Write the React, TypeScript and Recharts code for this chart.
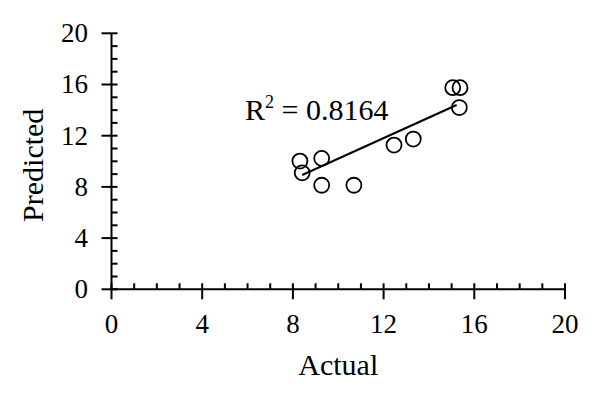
import { ScatterChart, Scatter, XAxis, YAxis, ReferenceLine, ReferenceDot, Label } from 'recharts'

// values
const actual = [8.31, 8.41, 9.27, 9.27, 10.69, 12.46, 13.31, 15.05, 15.37, 15.34]
const predicted = [10.02, 9.1, 10.23, 8.13, 8.13, 11.27, 11.74, 15.75, 15.75, 14.2]
const trendActual = [8.41, 15.22]
const trendPredicted = [8.93, 14.4]
const minorTicks = Array.from({ length: 21 }, (_, i) => i)
const majorTicks = [0, 4, 8, 12, 16, 20]
const r2Value = '0.8164'

const FONT = '"Liberation Serif", "Times New Roman", serif'
const INK = '#000'

const points = actual.map((x, i) => ({ x, y: predicted[i] }))

const XTick = ({ x, y, payload }: any) => {
  const major = majorTicks.includes(payload.value)
  return (
    <g>
      {major ? (
        <>
          <line x1={x} x2={x} y1={y - 6} y2={y + 10} stroke={INK} strokeWidth={2} />
          <text x={x} y={y + 44} textAnchor="middle" fontFamily={FONT} fontSize={27} fill={INK}>
            {payload.value}
          </text>
        </>
      ) : (
        <line x1={x} x2={x} y1={y - 6} y2={y} stroke={INK} strokeWidth={2} />
      )}
    </g>
  )
}

const YTick = ({ x, y, payload }: any) => {
  const major = majorTicks.includes(payload.value)
  return (
    <g>
      {major ? (
        <>
          <line x1={x - 10} x2={x + 6} y1={y} y2={y} stroke={INK} strokeWidth={2} />
          <text x={x - 23.5} y={y} dy="0.33em" textAnchor="end" fontFamily={FONT} fontSize={27} fill={INK}>
            {payload.value}
          </text>
        </>
      ) : (
        <line x1={x} x2={x + 6} y1={y} y2={y} stroke={INK} strokeWidth={2} />
      )}
    </g>
  )
}

const Circle = ({ cx, cy }: any) => (
  <circle cx={cx} cy={cy} r={7.5} fill="none" stroke={INK} strokeWidth={1.8} />
)

export default function App() {
  return (
    <div style={{ position: 'absolute', left: 0, top: 0, background: '#fff' }}>
      <ScatterChart width={600} height={397} margin={{ top: 33.3, right: 35, bottom: 47.7, left: 0 }}>
        <XAxis
          type="number"
          dataKey="x"
          domain={[0, 20]}
          ticks={minorTicks}
          interval={0}
          tickSize={0}
          tickMargin={0}
          tickLine={false}
          tick={<XTick />}
          axisLine={{ stroke: INK, strokeWidth: 2 }}
          height={60}
        >
          <Label
            content={({ viewBox }: any) => (
              <text
                x={viewBox.x + viewBox.width / 2}
                y={viewBox.y + 86}
                textAnchor="middle"
                fontFamily={FONT}
                fontSize={30}
                fill={INK}
              >
                Actual
              </text>
            )}
          />
        </XAxis>
        <YAxis
          type="number"
          dataKey="y"
          domain={[0, 20]}
          ticks={minorTicks}
          interval={0}
          tickSize={0}
          tickMargin={0}
          tickLine={false}
          tick={<YTick />}
          axisLine={{ stroke: INK, strokeWidth: 2 }}
          width={111.5}
        >
          <Label
            content={({ viewBox }: any) => {
              const cy = viewBox.y + viewBox.height / 2 + 4
              return (
                <text
                  x={43}
                  y={cy}
                  transform={`rotate(-90, 43, ${cy})`}
                  textAnchor="middle"
                  fontFamily={FONT}
                  fontSize={30}
                  fill={INK}
                >
                  Predicted
                </text>
              )
            }}
          />
        </YAxis>
        <ReferenceLine
          segment={[
            { x: trendActual[0], y: trendPredicted[0] },
            { x: trendActual[1], y: trendPredicted[1] },
          ]}
          stroke={INK}
          strokeWidth={2}
          ifOverflow="visible"
        />
        <Scatter data={points} shape={<Circle />} isAnimationActive={false} />
        <ReferenceDot
          x={5.89}
          y={13.23}
          r={0}
          fill="none"
          stroke="none"
          ifOverflow="visible"
          label={({ viewBox }: any) => (
            <text x={viewBox.x} y={viewBox.y} fontFamily={FONT} fontSize={30} fill={INK}>
              R
              <tspan fontSize={18} dy={-12}>2</tspan>
              <tspan dy={12}>{` = ${r2Value}`}</tspan>
            </text>
          )}
        />
      </ScatterChart>
    </div>
  )
}
